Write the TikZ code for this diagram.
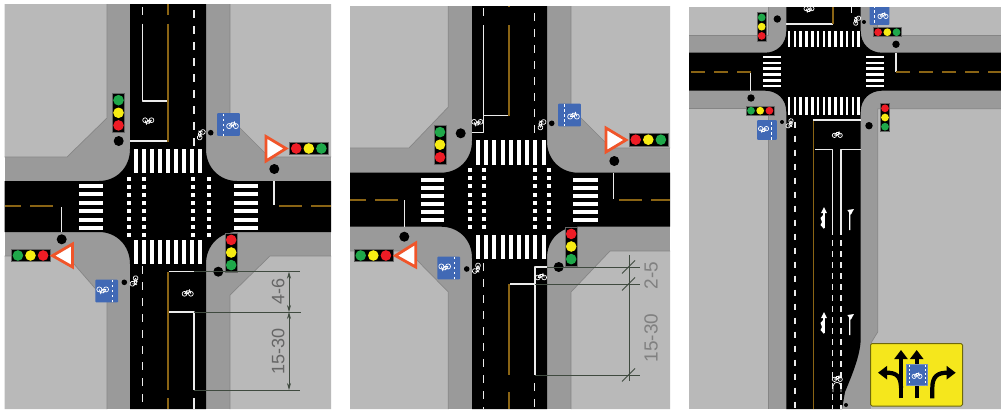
\documentclass[tikz,border=0pt]{standalone}
\usepackage{fontspec}
\setmainfont{Liberation Sans}
\usetikzlibrary{arrows.meta}
\definecolor{lotgray}{HTML}{B9B9B9}
\definecolor{walkgray}{HTML}{9A9A9A}
\definecolor{edgegray}{HTML}{858585}
\definecolor{lanebrown}{HTML}{8A6414}
\definecolor{signblue}{HTML}{4169B5}
\definecolor{signyellow}{HTML}{F5E71C}
\definecolor{yieldred}{HTML}{F0552A}
\definecolor{lampred}{HTML}{EE1C25}
\definecolor{lampyellow}{HTML}{F7EC13}
\definecolor{lampgreen}{HTML}{1FA84A}
\definecolor{dimgreen}{HTML}{3F4A3F}
\tikzset{
  lot/.style={fill=lotgray},
  lotedge/.style={draw=edgegray,line width=.7pt},
  road/.style={fill=black},
  whiteline/.style={draw=white!92!black,line width=1.4pt},
  whitedash/.style={whiteline,dash pattern=on 8pt off 8pt},
  brownline/.style={draw=lanebrown,line width=1.6pt},
  browndash/.style={brownline,dash pattern=on 23pt off 9pt},
  dimline/.style={draw=dimgreen,line width=.7pt},
  dimtext/.style={text=black!60,font=\fontsize{18}{18}\selectfont,rotate=90},
  pole/.style={fill=black},
  yieldmark/.style={fill=white,draw=yieldred,line width=2.8pt,line join=miter},
  signarrow/.style={draw=black,line width=4.2pt,-{Triangle[length=9pt,width=13pt]}},
  lanearrow/.style={draw=white,line width=1.3pt,-{Triangle[length=6pt,width=5.5pt]}},
}
% traffic light: x, y, rotation, scale, three lamps
\newcommand{\tlight}[7]{
  \begin{scope}[shift={(#1,#2)},rotate=#3,scale=#4]
    \fill[black,draw=black!60,line width=.5pt] (-6.2,-19.5) rectangle (6.2,19.5);
    \fill[#5] (0,-12.6) circle[radius=5.3];
    \fill[#6] (0,0) circle[radius=5.3];
    \fill[#7] (0,12.6) circle[radius=5.3];
  \end{scope}
}
% cycle symbol: x, y, rotation, scale
\newcommand{\bikemark}[4]{
  \begin{scope}[shift={(#1,#2)},rotate=#3,scale=#4]
    \draw[white,line width=.7pt] (-3.2,1.5) circle[radius=2.4] (3.2,1.5) circle[radius=2.4];
    \draw[white,line width=.7pt] (-3.2,1.5)--(-1,-1.6)--(2.2,-1.6)--(3.2,1.5) (-1,-1.6)--(0,1.5)--(-3.2,1.5) (0,1.5)--(2.2,-1.6) (2.2,-1.6)--(1.8,-3);
  \end{scope}
}
% blue cycle sign: x, y, rotation, scale
\newcommand{\bluesign}[4]{
  \begin{scope}[shift={(#1,#2)},rotate=#3,scale=#4]
    \fill[signblue,rounded corners=.8pt] (-11.3,-11.3) rectangle (11.3,11.3);
    \draw[white,line width=.8pt,dash pattern=on 2.5pt off 2.5pt] (-5.5,-11)--(-5.5,11);
    \bikemark{4}{0}{0}{1.05}
  \end{scope}
}

\begin{document}
\begin{tikzpicture}[x=1pt,y=-1pt,line join=round]
  \useasboundingbox (0,0) rectangle (1001,410);

  \begin{scope}[shift={(0,0)}]
    \fill[walkgray] (4.5,4) rectangle (331,409);
    \fill[lot] (4.5,4)--(107,4)--(107,118)--(67,157)--(4.5,157)--cycle;
    \fill[lot] (230,4)--(331,4)--(331,157)--(269,157)--(230,118)--cycle;
    \fill[lot] (4.5,256)--(67,256)--(107,302)--(107,409)--(4.5,409)--cycle;
    \fill[lot] (230,409)--(331,409)--(331,256)--(270,256)--(230,295)--cycle;
    \draw[lotedge] (107,4)--(107,118)--(67,157)--(4.5,157);
    \draw[lotedge] (230,4)--(230,118)--(269,157)--(331,157);
    \draw[lotedge] (4.5,256)--(67,256)--(107,302)--(107,409);
    \draw[lotedge] (230,409)--(230,295)--(270,256)--(331,256);
    \fill[road] (130,4)--(130,149) .. controls (130,168) and (116,181) .. (99,181)--(4.5,181)--(4.5,232)--(99,232)
      .. controls (116,232) and (130,245) .. (130,264)--(130,409)--(206,409)--(206,264)
      .. controls (206,245) and (220,232) .. (237,232)--(331,232)--(331,181)--(237,181)
      .. controls (220,181) and (206,168) .. (206,149)--(206,4)--cycle;
    % crossings
    \foreach \x in {136,144,...,200}{
      \fill[white] (\x-2,149) rectangle (\x+2,173);
      \fill[white] (\x-2,240) rectangle (\x+2,264);
    }
    \foreach \y in {186,194.4,...,228}{
      \fill[white] (78.5,\y-2) rectangle (102.5,\y+2);
      \fill[white] (233.5,\y-2) rectangle (258,\y+2);
    }
    \foreach \x in {128.5,143.5,192.5,208.5}
      \foreach \y in {178.5,186.5,...,235}
        \fill[white] (\x-2,\y-2) rectangle (\x+2,\y+2);
    % lane lines
    \draw[whiteline] (142.3,7)--(142.3,15);
    \draw[whiteline] (142.3,23.5)--(142.3,101)--(167.7,101);
    \draw[whiteline] (130,141)--(167.7,141);
    \draw[brownline] (167.7,4)--(167.7,15);
    \draw[brownline] (167.7,23.5)--(167.7,141.7);
    \draw[whitedash] (194,10)--(194,146);
    \draw[whiteline] (274,181)--(274,205);
    \draw[whiteline] (61.7,207)--(61.7,232);
    \draw[browndash] (53,206)--(4.5,206);
    \draw[browndash] (279,206)--(331,206);
    \draw[whitedash] (142.3,266)--(142.3,409);
    \draw[whiteline] (169,271.7)--(206,271.7);
    \draw[whiteline] (169,312)--(194,312)--(194,390);
    \draw[whiteline] (194,398)--(194,409);
    \draw[brownline] (167.7,271.7)--(167.7,390);
    \draw[brownline] (167.7,398)--(167.7,409);
    \bikemark{148.3}{121.7}{180}{1}
    \bikemark{200}{134}{60}{1}
    \bikemark{187.7}{292.3}{0}{1}
    \bikemark{135.3}{281.7}{240}{1}
    % signals
    \tlight{118.5}{112.8}{0}{1}{lampgreen}{lampyellow}{lampred}
    \tlight{308.8}{148.5}{90}{1}{lampred}{lampyellow}{lampgreen}
    \tlight{30.5}{255.5}{90}{1}{lampgreen}{lampyellow}{lampred}
    \tlight{231.2}{252.5}{0}{1}{lampred}{lampyellow}{lampgreen}
    \fill[pole] (118.7,141) circle[radius=5];
    \fill[pole] (274.3,169) circle[radius=5];
    \fill[pole] (61.7,239.3) circle[radius=5];
    \fill[pole] (218.3,271.7) circle[radius=5];
    \fill[pole] (210.7,132.7) circle[radius=2.8];
    \fill[pole] (124.3,282.3) circle[radius=2.8];
    \draw[yieldmark] (266,136.5)--(266,161)--(286,148.5)--cycle;
    \draw[yieldmark] (72.5,244)--(72.5,267)--(52.5,255.7)--cycle;
    \bluesign{228.5}{124.5}{0}{1}
    \bluesign{106.7}{291}{180}{1}
    % dimensions
    \draw[dimline] (194,271.7)--(300,271.7);
    \draw[dimline] (194,312)--(301,312);
    \draw[dimline] (194,390)--(300,390);
    \draw[dimline,{Stealth[length=7pt,width=4pt]}-{Stealth[length=7pt,width=4pt]}] (289,271.7)--(289,312);
    \draw[dimline,{Stealth[length=7pt,width=4pt]}-{Stealth[length=7pt,width=4pt]}] (289,312)--(289,390);
    \node[dimtext] (widthA) at (278.3,291.7) {4-6};
    \node[dimtext] (lengthA) at (278.3,351) {15-30};
  \end{scope}

  \begin{scope}[shift={(345,0)}]
    \fill[walkgray] (5,6) rectangle (325,409);
    \fill[lot] (5,6)--(103.3,6)--(103.3,107)--(64,148)--(5,148)--cycle;
    \fill[lot] (226,6)--(325,6)--(325,148)--(266,148)--(226,108)--cycle;
    \fill[lot] (5,251)--(63,251)--(103.3,292)--(103.3,409)--(5,409)--cycle;
    \fill[lot] (226,409)--(325,409)--(325,251)--(265,251)--(226,292)--cycle;
    \draw[lotedge] (103.3,6)--(103.3,107)--(64,148)--(5,148);
    \draw[lotedge] (226,6)--(226,108)--(266,148)--(325,148);
    \draw[lotedge] (5,251)--(63,251)--(103.3,292)--(103.3,409);
    \draw[lotedge] (226,409)--(226,292)--(265,251)--(325,251);
    \fill[road] (127,6)--(127,141) .. controls (127,160) and (113,172.7) .. (96,172.7)--(5,172.7)--(5,226.7)--(96,226.7)
      .. controls (113,226.7) and (127,239) .. (127,258)--(127,409)--(202,409)--(202,258)
      .. controls (202,239) and (216,226.7) .. (233,226.7)--(325,226.7)--(325,172.7)--(233,172.7)
      .. controls (216,172.7) and (202,160) .. (202,141)--(202,6)--cycle;
    % crossings
    \foreach \x in {133,141.2,...,199}{
      \fill[white] (\x-2,140) rectangle (\x+2,165);
      \fill[white] (\x-2,235) rectangle (\x+2,259.3);
    }
    \foreach \y in {179.7,187.8,...,221.5}{
      \fill[white] (75.7,\y-2) rectangle (99.3,\y+2);
      \fill[white] (228.3,\y-2) rectangle (252.7,\y+2);
    }
    \foreach \x in {125,139,190,203.7}
      \foreach \y in {170,178.2,...,229}
        \fill[white] (\x-2,\y-2) rectangle (\x+2,\y+2);
    % lane lines
    \draw[whiteline] (138.3,8)--(138.3,16);
    \draw[whiteline] (127,132.7)--(138.3,132.7)--(138.3,25);
    \draw[whiteline] (138.3,115.7)--(164,115.7);
    \draw[brownline] (164,25)--(164,115.7);
    \draw[brownline] (164,6)--(164,7);
    \draw[whitedash] (189.7,13)--(189.7,137);
    \draw[whiteline] (268.7,172.7)--(268.7,199.3);
    \draw[whiteline] (59.3,200)--(59.3,226.7);
    \draw[browndash] (52.7,200)--(5,200);
    \draw[browndash] (274,200)--(325,200);
    \draw[whitedash] (138.3,263)--(138.3,409);
    \draw[whiteline] (202,267)--(190,267)--(190,375);
    \draw[whiteline] (165,284)--(190,284);
    \draw[brownline] (164,284)--(164,375);
    \draw[brownline] (164,392)--(164,409);
    \draw[whitedash] (189.7,383)--(189.7,409);
    \bikemark{132.3}{123.3}{180}{1}
    \bikemark{195.7}{124}{60}{1}
    \bikemark{196}{276}{0}{1}
    \bikemark{132.7}{269}{240}{1}
    % signals
    \tlight{95}{144.7}{0}{1}{lampgreen}{lampyellow}{lampred}
    \tlight{303.3}{139.7}{90}{1}{lampred}{lampyellow}{lampgreen}
    \tlight{28.3}{255.5}{90}{1}{lampgreen}{lampyellow}{lampred}
    \tlight{226.2}{246.5}{0}{1}{lampred}{lampyellow}{lampgreen}
    \fill[pole] (115.7,133.3) circle[radius=5];
    \fill[pole] (269.3,161) circle[radius=5];
    \fill[pole] (59.3,236.7) circle[radius=5];
    \fill[pole] (213.7,267) circle[radius=5];
    \fill[pole] (206.7,123.3) circle[radius=2.8];
    \fill[pole] (121.7,269) circle[radius=2.8];
    \draw[yieldmark] (261,128)--(261,152)--(281,140)--cycle;
    \draw[yieldmark] (70.7,243)--(70.7,267)--(50.5,255.7)--cycle;
    \bluesign{224.5}{115}{0}{1}
    \bluesign{103.7}{268}{180}{1}
    % dimensions
    \draw[dimline] (202,267)--(295,267);
    \draw[dimline] (190,284)--(295,284);
    \draw[dimline] (190,375)--(295,375);
    \draw[dimline] (284,255)--(284,381);
    \foreach \y in {267,284,375}
      \draw[dimline,line width=1pt] (277,\y+6.5)--(290,\y-6.5);
    \node[dimtext,font=\fontsize{19}{19}\selectfont,text=black!50] (widthB) at (306,275.7) {2-5};
    \node[dimtext,font=\fontsize{19}{19}\selectfont,text=black!50] (lengthB) at (306,338) {15-30};
  \end{scope}

  \begin{scope}[shift={(685,0)}]
    \fill[walkgray] (4,7) rectangle (316,409);
    \fill[lot] (4,7)--(83.3,7)--(83.3,35.7)--(4,35.7)--cycle;
    \fill[lot] (192.7,7)--(316,7)--(316,35.7)--(192.7,35.7)--cycle;
    \fill[lot] (4,108.7)--(83.3,108.7)--(83.3,409)--(4,409)--cycle;
    \fill[lot] (192.7,108.7)--(316,108.7)--(316,409)--(186,409)--(186,343)--(192.7,332)--cycle;
    \draw[lotedge] (83.3,7)--(83.3,35.7)--(4,35.7);
    \draw[lotedge] (192.7,7)--(192.7,35.7)--(316,35.7);
    \draw[lotedge] (4,108.7)--(83.3,108.7)--(83.3,409);
    \draw[lotedge] (316,108.7)--(192.7,108.7)--(192.7,332)--(186,343);
    \fill[road] (101.3,7)--(101.3,31) .. controls (101.3,44) and (92,52.7) .. (80,52.7)--(4,52.7)--(4,90.7)--(80,90.7)
      .. controls (92,90.7) and (101.3,99) .. (101.3,112)--(101.3,409)--(157,409)--(160,392)
      .. controls (167,375) and (175.7,355) .. (175.7,338)--(175.7,112)
      .. controls (175.7,99) and (185,90.7) .. (197,90.7)--(316,90.7)--(316,52.7)--(197,52.7)
      .. controls (185,52.7) and (175.7,44) .. (175.7,31)--(175.7,7)--cycle;
    % crossings
    \foreach \x in {104,109.8,...,174}{
      \fill[white] (\x-1.3,30.7) rectangle (\x+1.3,47);
      \fill[white] (\x-1.3,97.3) rectangle (\x+1.3,114.7);
    }
    \foreach \y in {57,62.8,...,89}{
      \fill[white] (78,\y-1.3) rectangle (95.7,\y+1.3);
      \fill[white] (181.3,\y-1.3) rectangle (199,\y+1.3);
    }
    % lane lines
    \draw[whiteline] (101.3,24)--(147.7,24);
    \draw[brownline] (147.7,7)--(147.7,24);
    \draw[whiteline] (166.7,7)--(166.7,13);
    \draw[whiteline] (211,52.7)--(211,71.7);
    \draw[whiteline] (65.7,71.7)--(65.7,90.7);
    \draw[brownline,dash pattern=on 14pt off 9pt] (65.7,71.7)--(4,71.7);
    \draw[brownline,dash pattern=on 14pt off 9pt] (211,71.7)--(316,71.7);
    \draw[whiteline,line width=1.1pt,dash pattern=on 6pt off 8pt] (110,121.7)--(110,409);
    \draw[brownline] (128.3,120)--(128.3,409);
    \draw[whiteline] (128.3,120)--(175.7,120);
    \draw[whiteline] (130,149.7)--(147.7,149.7)--(147.7,235);
    \draw[whiteline] (175.7,149.7)--(156,149.7)--(156,235);
    \draw[whiteline,line width=1.1pt,dash pattern=on 6pt off 5pt] (147.7,240)--(147.7,409);
    \draw[whiteline,line width=1.1pt,dash pattern=on 6pt off 5pt] (156,240)--(156,409);
    \foreach \y in {0,105}{
      \draw[lanearrow] (139,228+\y)--(139,207+\y);
      \fill[white] (139,229+\y)--(135.5,225+\y)--(137,222+\y)--(135.5,218+\y)--(139,214+\y)--cycle;
      \draw[lanearrow] (164.7,230+\y)--(164.7,216+\y) .. controls (164.7,212+\y) .. (169,209+\y);
    }
    \bikemark{124}{10}{180}{.9}
    \bikemark{171}{20}{60}{.9}
    \bikemark{105.7}{124}{240}{.9}
    \bikemark{152.3}{134}{0}{.9}
    \bikemark{152.3}{378}{0}{.9}
    \draw[white,line width=.7pt] (148,392)--(148,386) .. controls (149,381) and (155,381) .. (156,386)--(156,392);
    % signals
    \tlight{76.7}{26.7}{0}{.73}{lampgreen}{lampyellow}{lampred}
    \tlight{202.3}{32.2}{90}{.73}{lampred}{lampyellow}{lampgreen}
    \tlight{75.2}{110.7}{90}{.73}{lampgreen}{lampyellow}{lampred}
    \tlight{200}{117.5}{0}{.73}{lampred}{lampyellow}{lampgreen}
    \fill[pole] (92.3,19) circle[radius=3.7];
    \fill[pole] (211,44.3) circle[radius=3.7];
    \fill[pole] (66,98) circle[radius=3.7];
    \fill[pole] (184,125.7) circle[radius=3.7];
    \fill[pole] (179,22) circle[radius=2];
    \fill[pole] (97,122) circle[radius=2];
    \fill[pole] (161,405) circle[radius=2];
    \begin{scope}
      \clip (170,7) rectangle (220,40);
      \bluesign{194.5}{15}{0}{.87}
    \end{scope}
    \bluesign{82}{130}{180}{.87}
    % lane sign
    \fill[signyellow,draw=black!55!signyellow,line width=1pt,rounded corners=1.5pt] (185.5,343.5) rectangle (277.5,406);
    \draw[signarrow] (216,398.3) -- (216,350);
    \draw[signarrow] (231.7,398.3) -- (231.7,350);
    \draw[signarrow] (216,388) .. controls (216,375) and (210,372.7) .. (193,372.7);
    \draw[signarrow] (247.3,398.3)--(247.3,388) .. controls (247.3,376) and (253,372.7) .. (270.7,372.7);
    \fill[signblue,draw=black!10!signblue!70!white,line width=.6pt] (221.7,364.3) rectangle (242.3,385);
    \draw[white,line width=.7pt,dash pattern=on 2pt off 2pt] (224,365)--(224,385) (240,365)--(240,385);
    \bikemark{232}{375}{0}{.9}
  \end{scope}
\end{tikzpicture}
\end{document}
